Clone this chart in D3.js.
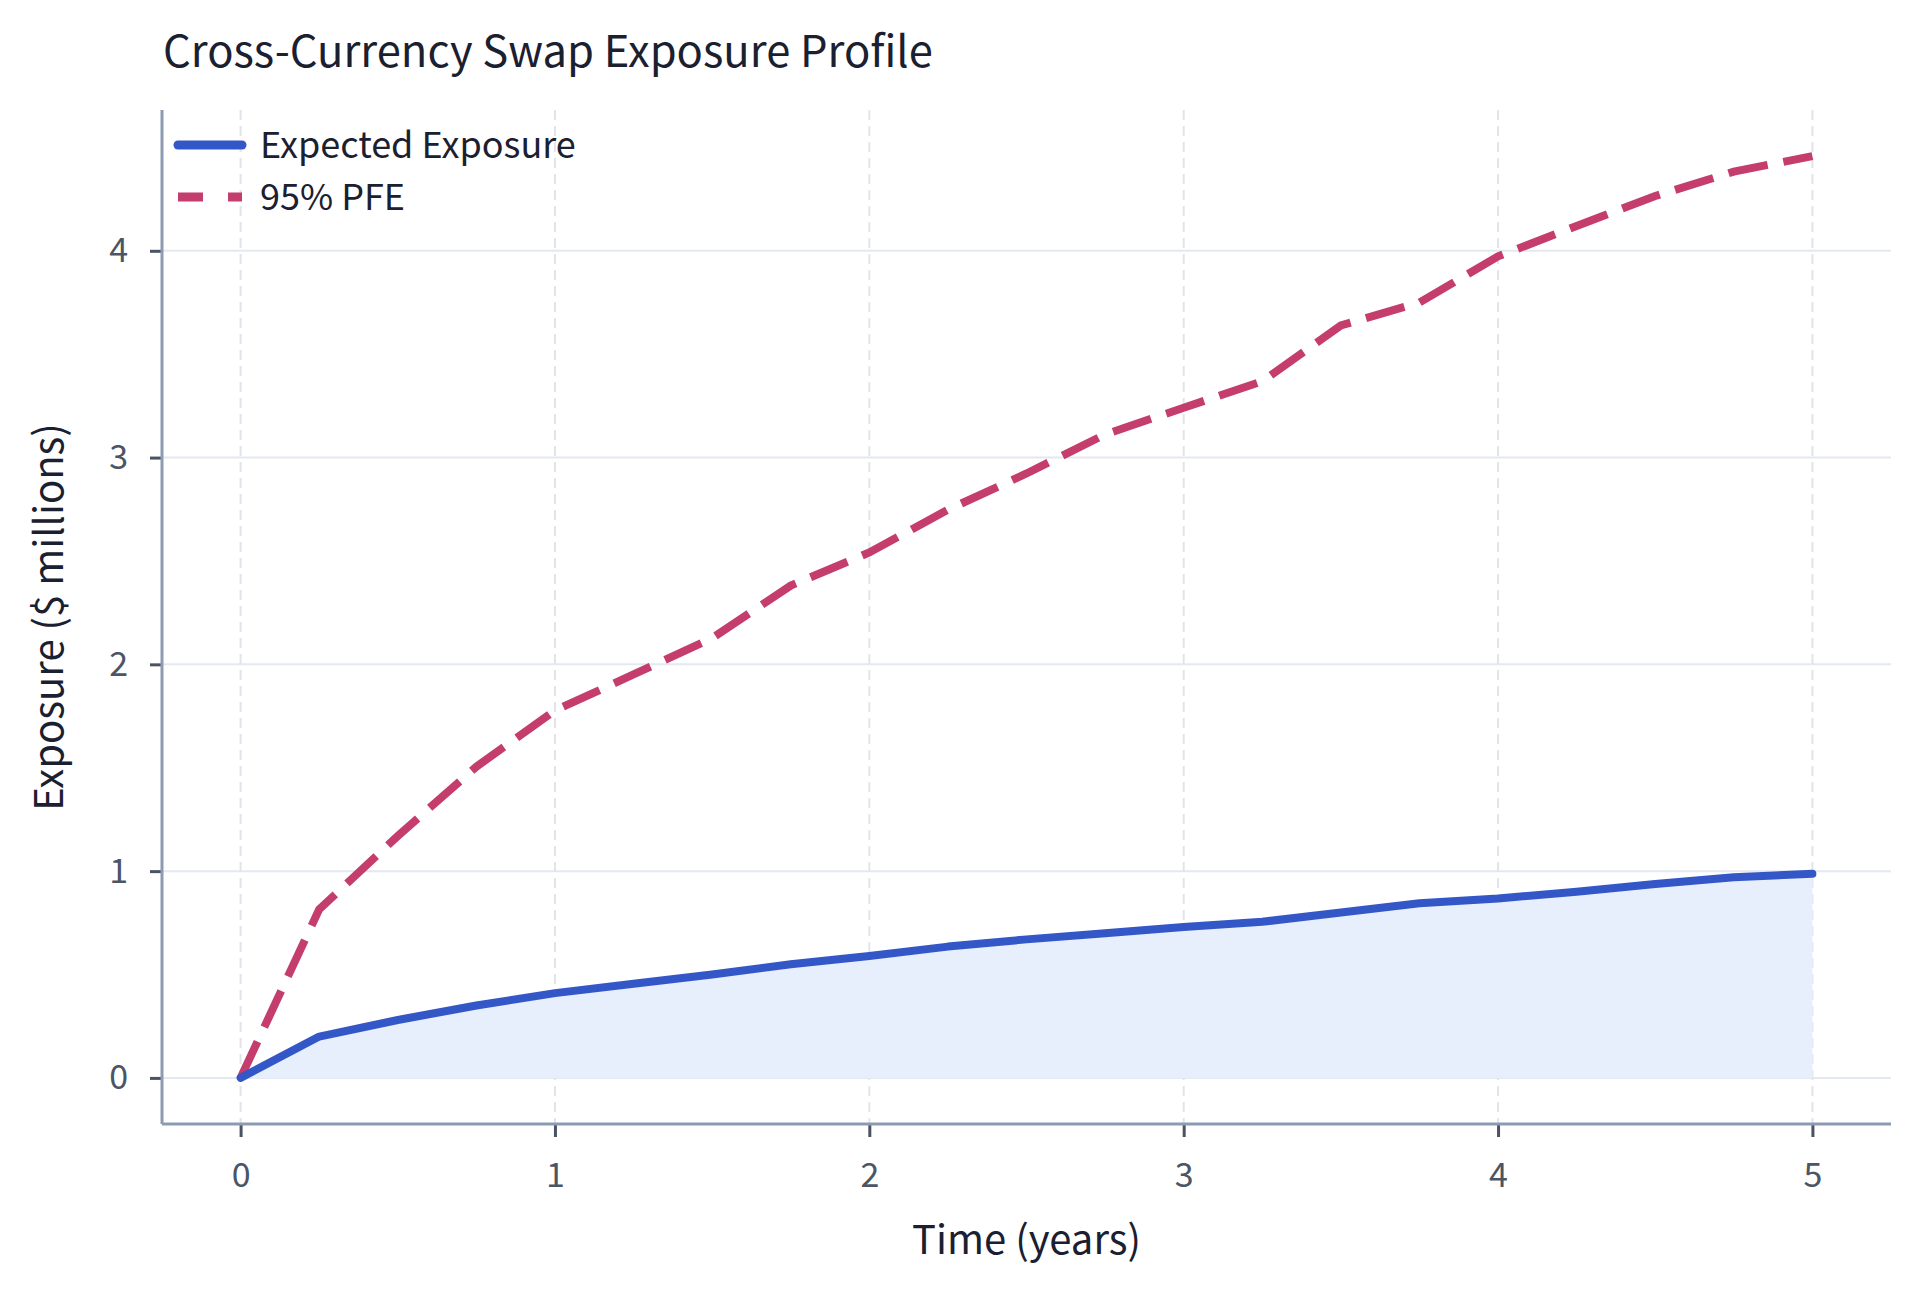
<!DOCTYPE html>
<html>
<head>
<meta charset="utf-8">
<script src="https://cdn.jsdelivr.net/npm/d3@7"></script>
<style>
  html, body { margin: 0; padding: 0; background: #fff; }
  svg { display: block; font-family: "Noto Sans CJK KR", "Noto Sans", sans-serif; }
</style>
</head>
<body>
<svg id="chart" width="1920" height="1292"></svg>
<script>
// données (pas trimestriel)
const years = [0, 0.25, 0.5, 0.75, 1, 1.25, 1.5, 1.75, 2, 2.25, 2.5,
               2.75, 3, 3.25, 3.5, 3.75, 4, 4.25, 4.5, 4.75, 5];
const expectedExposure = [0, 0.20, 0.28, 0.35, 0.41, 0.455, 0.50, 0.55, 0.59, 0.635, 0.67,
                          0.70, 0.73, 0.755, 0.80, 0.845, 0.868, 0.90, 0.938, 0.97, 0.987];
const pfe95 = [0, 0.815, 1.17, 1.505, 1.777, 1.951, 2.127, 2.381, 2.541, 2.748, 2.923,
               3.112, 3.241, 3.369, 3.639, 3.750, 3.973, 4.120, 4.265, 4.383, 4.458];
const xTicks = [0, 1, 2, 3, 4, 5];
const yTicks = [0, 1, 2, 3, 4];
const seriesNames = ["Expected Exposure", "95% PFE"];

const blue = "#3457c8", pink = "#c43d6d";

const margin = {top: 110, right: 29, bottom: 168, left: 162};
const W = 1920, H = 1292;
const w = W - margin.left - margin.right;
const h = H - margin.top - margin.bottom;

const svg = d3.select("#chart");
const g = svg.append("g").attr("transform", `translate(${margin.left},${margin.top})`);

// echelles avec 5% de marge
const xPad = (d3.max(years) - d3.min(years)) * 0.05;
const x = d3.scaleLinear().domain([d3.min(years) - xPad, d3.max(years) + xPad]).range([0, w]);
const yMax = d3.max(pfe95);
const y = d3.scaleLinear().domain([-yMax * 0.05, yMax * 1.05]).range([h, 0]);

// grille horizontale
g.append("g").selectAll("line").data(yTicks).join("line")
  .attr("x1", 0).attr("x2", w)
  .attr("y1", d => y(d)).attr("y2", d => y(d))
  .attr("stroke", "#e4e8f1").attr("stroke-width", 2);

// grille verticale (pointillés)
g.append("g").selectAll("line").data(xTicks).join("line")
  .attr("x1", d => x(d)).attr("x2", d => x(d))
  .attr("y1", 0).attr("y2", h)
  .attr("stroke", "#e1e5eb").attr("stroke-width", 2)
  .attr("stroke-dasharray", "10,6");

const rows = years.map((t, i) => ({t: t, ee: expectedExposure[i], pfe: pfe95[i]}));

// aire sous l'exposition attendue
g.append("path").datum(rows)
  .attr("fill", "#e7eefc")
  .attr("d", d3.area().x(d => x(d.t)).y0(y(0)).y1(d => y(d.ee)));

g.append("path").datum(rows)
  .attr("fill", "none").attr("stroke", pink).attr("stroke-width", 8)
  .attr("stroke-dasharray", "40,16")
  .attr("d", d3.line().x(d => x(d.t)).y(d => y(d.pfe)));

g.append("path").datum(rows)
  .attr("fill", "none").attr("stroke", blue).attr("stroke-width", 8)
  .attr("stroke-linecap", "round").attr("stroke-linejoin", "round")
  .attr("d", d3.line().x(d => x(d.t)).y(d => y(d.ee)));

// axes
const xAxis = g.append("g").attr("transform", `translate(0,${h})`)
  .call(d3.axisBottom(x).tickValues(xTicks).tickFormat(d3.format("d")).tickSize(13).tickPadding(26));
const yAxis = g.append("g")
  .call(d3.axisLeft(y).tickValues(yTicks).tickFormat(d3.format("d")).tickSize(12).tickPadding(22));

[xAxis, yAxis].forEach(a => {
  a.select(".domain").remove();
  a.selectAll(".tick line").attr("stroke", "#4a5363").attr("stroke-width", 3);
  a.selectAll(".tick text").attr("fill", "#4b5565").attr("font-size", "34px")
    .attr("font-family", "Noto Sans CJK KR, Noto Sans, sans-serif");
});

// bordures gauche et bas
g.append("line").attr("x1", 0).attr("x2", 0).attr("y1", 0).attr("y2", h)
  .attr("stroke", "#8c9bb1").attr("stroke-width", 3);
g.append("line").attr("x1", 0).attr("x2", w).attr("y1", h).attr("y2", h)
  .attr("stroke", "#8c9bb1").attr("stroke-width", 3);

// titres
svg.append("text").attr("x", 163).attr("y", 67)
  .attr("font-size", "43.5px").attr("fill", "#1b2030")
  .text("Cross-Currency Swap Exposure Profile");

svg.append("text")
  .attr("x", margin.left + w / 2).attr("y", 1254)
  .attr("text-anchor", "middle").attr("font-size", "40px").attr("fill", "#1b2030")
  .text("Time (years)");

svg.append("text")
  .attr("transform", `translate(63,${margin.top + h / 2}) rotate(-90)`)
  .attr("text-anchor", "middle").attr("font-size", "40px").attr("fill", "#1b2030")
  .text("Exposure ($ millions)");

// légende
const legend = svg.append("g");
const legendRows = legend.selectAll("g").data(seriesNames).join("g")
  .attr("transform", (d, i) => `translate(0,${145 + i * 52})`);
legendRows.append("line")
  .attr("x1", 178).attr("x2", 242).attr("y1", 0).attr("y2", 0)
  .attr("stroke", (d, i) => i === 0 ? blue : pink)
  .attr("stroke-width", 9)
  .attr("stroke-linecap", (d, i) => i === 0 ? "round" : "butt")
  .attr("stroke-dasharray", (d, i) => i === 0 ? null : "25,25");
legendRows.append("text")
  .attr("x", 260).attr("dy", "0.35em")
  .attr("font-size", "36px").attr("fill", "#1b2030")
  .text(d => d);
</script>
</body>
</html>
